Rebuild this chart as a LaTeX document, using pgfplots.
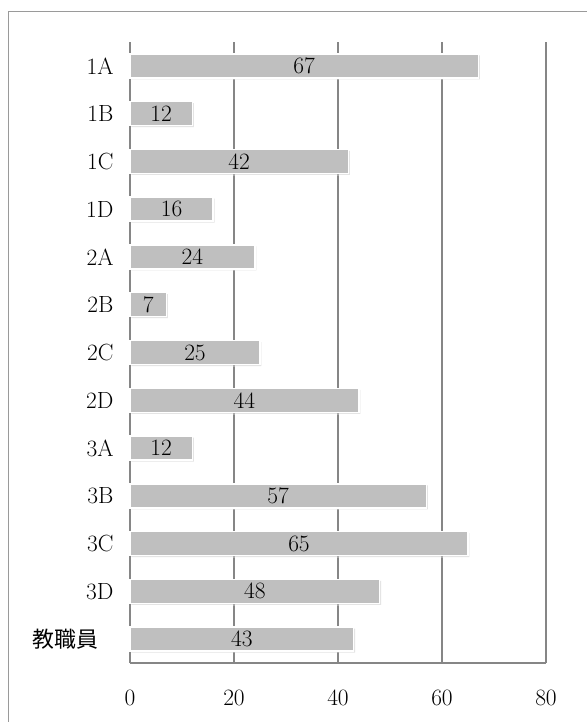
\documentclass[border=0pt]{standalone}
\usepackage{pgfplots}
\pgfplotsset{compat=1.18}
\usepackage{pgfplotstable}
\usepackage{fontspec}
\newfontfamily\cjk{Noto Sans CJK JP}
\usetikzlibrary{shadows}
\definecolor{barfill}{HTML}{BFBFBF}
\definecolor{gridc}{HTML}{868686}
\definecolor{framec}{HTML}{9A9A9A}
\pgfplotstableread{
y v
0 67
1 12
2 42
3 16
4 24
5 7
6 25
7 44
8 12
9 57
10 65
11 48
12 43
}\datatable
\begin{document}
\begin{tikzpicture}[x=1bp,y=1bp]
\useasboundingbox (-130bp,-59bp) rectangle (457bp,663bp);
\draw[framec, line width=1bp] (-121bp,-70bp) -- (-121bp,651bp) -- (470bp,651bp);
\begin{axis}[
  at={(0,0)}, anchor=south west,
  scale only axis, width=416bp, height=621bp,
  xmin=0, xmax=80, ymin=-0.5, ymax=12.5,
  y dir=reverse,
  xtick={0,20,40,60,80},
  ytick={0,...,12},
  yticklabels={1A,1B,1C,1D,2A,2B,2C,2D,3A,3B,3C,3D,{\cjk\fontsize{22}{24}\selectfont 教職員\kern15bp}},
  major tick length=0pt,
  axis x line*=bottom, axis y line*=left,
  axis line style={gridc, line width=1.2bp, -},
  xmajorgrids, major grid style={gridc, line width=1.2bp},
  tick label style={font=\fontsize{23.5}{26}\selectfont},
  xticklabel style={yshift=-23bp},
  yticklabel style={xshift=-13bp},
  /pgf/number format/assume math mode=true,
  clip=false,
]
\addplot[xbar, bar width=24bp, fill=barfill, draw=white, line width=1.5bp,
  drop shadow={shadow xshift=1.5bp, shadow yshift=-1.5bp, opacity=0.3}]
  table[x=v, y=y] {\datatable};
\addplot[only marks, mark=none, point meta=\thisrow{v},
  nodes near coords, nodes near coords style={anchor=center, font=\fontsize{23.5}{26}\selectfont, text=black}]
  table[x expr=\thisrow{v}/2, y=y] {\datatable};
\end{axis}
\end{tikzpicture}
\end{document}
